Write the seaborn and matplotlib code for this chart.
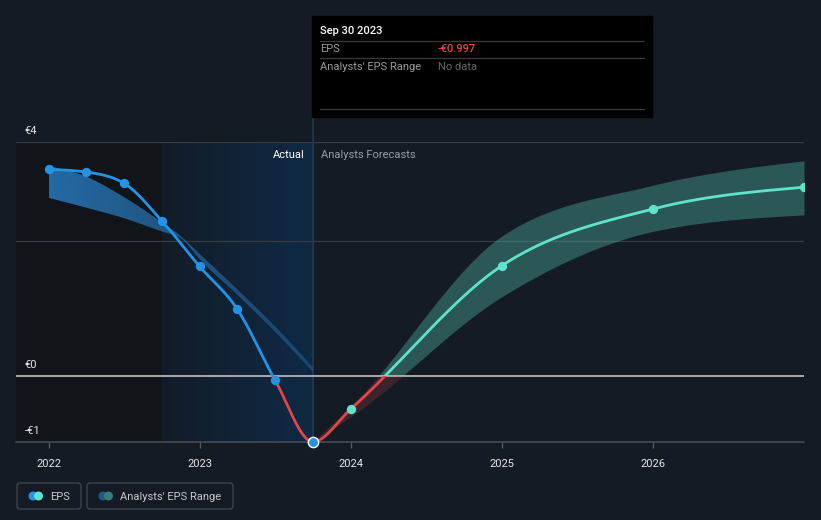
import numpy as np
import pandas as pd
import matplotlib
matplotlib.use("Agg")
import matplotlib.pyplot as plt
import seaborn as sns
from matplotlib.patches import Rectangle, FancyBboxPatch, Circle
from matplotlib.colors import to_rgb

# ---------------- data ----------------
actual_x = [2022.0, 2022.25, 2022.5, 2022.75, 2023.0, 2023.25, 2023.5, 2023.75]
actual_eps = [3.13, 3.09, 2.92, 2.35, 1.66, 1.01, -0.065, -0.997]

past_range_x = [2022.0, 2022.25, 2022.5, 2022.75, 2022.875, 2023.0, 2023.25, 2023.5, 2023.75]
past_range_high = [3.18, 3.02, 2.71, 2.33, 2.12, 1.85, 1.31, 0.75, 0.13]
past_range_low = [2.70, 2.55, 2.39, 2.19, 2.09, 1.77, 1.23, 0.67, 0.06]

fc_x = [2023.75, 2024.0, 2025.0, 2026.0, 2027.0]
fc_eps = [-0.997, -0.50, 1.67, 2.53, 2.86]
fc_low = [-0.997, -0.62, 1.20, 2.19, 2.44]
fc_high = [-0.997, -0.46, 2.12, 2.89, 3.26]

year_ticks = [2022, 2023, 2024, 2025, 2026]
year_labels = ["2022", "2023", "2024", "2025", "2026"]
y_label_vals = [3.545, 0.0, -1.0]
y_labels = ["€4", "€0", "-€1"]
gridline_vals = [3.545, 2.045]

tooltip_date = "Sep 30 2023"
tooltip_eps = "-€0.997"

# ---------------- helpers ----------------
def monotone(x, y, xs):
    """Monotone cubic (same rule as d3.curveMonotoneX)."""
    x = np.asarray(x, float); y = np.asarray(y, float)
    n = len(x)
    h = np.diff(x); s = np.diff(y) / h
    m = np.zeros(n)
    if n == 2:
        m[:] = s[0]
    else:
        for i in range(1, n - 1):
            p = (s[i - 1] * h[i] + s[i] * h[i - 1]) / (h[i - 1] + h[i])
            m[i] = (np.sign(s[i - 1]) + np.sign(s[i])) * min(abs(s[i - 1]), abs(s[i]), 0.5 * abs(p))
        m[0] = (3 * s[0] - m[1]) / 2
        m[-1] = (3 * s[-1] - m[-2]) / 2
    xs = np.asarray(xs, float)
    idx = np.clip(np.searchsorted(x, xs, side="right") - 1, 0, n - 2)
    t = (xs - x[idx]) / h[idx]
    h00 = 2 * t**3 - 3 * t**2 + 1
    h10 = t**3 - 2 * t**2 + t
    h01 = -2 * t**3 + 3 * t**2
    h11 = t**3 - t**2
    return h00 * y[idx] + h10 * h[idx] * m[idx] + h01 * y[idx + 1] + h11 * h[idx] * m[idx + 1]

# ---------------- style ----------------
BG = "#151b24"
BLUE = "#2394e4"
TEAL = "#5fe3cb"
RED = "#e0464a"

sns.set_theme(style="dark")
plt.rcParams["font.family"] = ["Roboto", "DejaVu Sans"]
plt.rcParams["axes.facecolor"] = BG
plt.rcParams["figure.facecolor"] = BG

W, H = 821, 520
fig = plt.figure(figsize=(W / 100, H / 100), dpi=100)
L, R, T, B = 16, 804, 142, 442
ax = fig.add_axes([L / W, 1 - B / H, (R - L) / W, (B - T) / H])
ax.set_facecolor(BG)

XMIN, XMAX = 2022 - 32.5 / 151.1, 2027.0
YMIN, YMAX = -1.0, 3.545

# background regions
ax.axvspan(XMIN, 2022.75, color="#111419", zorder=0, lw=0)
grad = np.zeros((1, 512, 4))
c0 = np.array(to_rgb("#131c28")); c1 = np.array(to_rgb("#0f2a45"))
for i in range(512):
    f = i / 511
    grad[0, i, :3] = c0 * (1 - f) + c1 * f
    grad[0, i, 3] = 1
ax.imshow(grad, extent=[2022.75, 2023.75, YMIN, YMAX], aspect="auto", zorder=0.5, interpolation="bilinear")

# grid lines
for gv in gridline_vals:
    ax.axhline(gv, color="#363b44", lw=0.9, zorder=1)
ax.axhline(0, color="#b5b5b5", lw=1.3, zorder=1.5)
ax.axhline(YMIN, color="#454a53", lw=1.2, zorder=1.5, clip_on=False)
ax.axvline(2023.75, ymin=0, ymax=(B - 117) / (B - T), color="#1d3a57", lw=1.2, zorder=1.2, clip_on=False)

# past analyst range (gradient fill)
xs_pr = np.linspace(past_range_x[0], past_range_x[-1], 400)
hi_pr = monotone(past_range_x, past_range_high, xs_pr)
lo_pr = monotone(past_range_x, past_range_low, xs_pr)
poly = ax.fill_between(xs_pr, lo_pr, hi_pr, facecolor="none", edgecolor="none")
g2 = np.zeros((1, 256, 4))
bc = np.array(to_rgb("#2a80c8"))
for i in range(256):
    f = i / 255
    g2[0, i, :3] = bc
    g2[0, i, 3] = 0.80 * (1 - f) + 0.35 * f
im = ax.imshow(g2, extent=[2022.0, 2023.75, YMIN, YMAX], aspect="auto", zorder=2, interpolation="bilinear")
im.set_clip_path(poly.get_paths()[0], transform=ax.transData)

# forecast range
xs_fc = np.linspace(fc_x[0], fc_x[-1], 500)
hi_fc = monotone(fc_x, fc_high, xs_fc)
lo_fc = monotone(fc_x, fc_low, xs_fc)
pos_clip = lambda: Rectangle((XMIN, 0), XMAX - XMIN, 50, transform=ax.transData)
neg_clip = lambda: Rectangle((XMIN, -50), XMAX - XMIN, 50, transform=ax.transData)
fb1 = ax.fill_between(xs_fc, lo_fc, hi_fc, color=TEAL, alpha=0.30, lw=0, zorder=2)
fb1.set_clip_path(pos_clip())
fb2 = ax.fill_between(xs_fc, lo_fc, hi_fc, color=RED, alpha=0.20, lw=0, zorder=2)
fb2.set_clip_path(neg_clip())

# EPS line: one continuous series (actual + forecast)
all_x = actual_x + fc_x[1:]
all_eps = actual_eps + fc_eps[1:]
xs_all = np.linspace(all_x[0], all_x[-1], 1200)
ys_all = monotone(all_x, all_eps, xs_all)
split = actual_x[-1]
df_a = pd.DataFrame({"x": xs_all[xs_all <= split], "y": ys_all[xs_all <= split]})
df_f = pd.DataFrame({"x": xs_all[xs_all >= split], "y": ys_all[xs_all >= split]})
df_f = pd.concat([pd.DataFrame({"x": [split], "y": [actual_eps[-1]]}), df_f], ignore_index=True)

for data, poscol in [(df_a, BLUE), (df_f, TEAL)]:
    for col, clipf in [(poscol, pos_clip), (RED, neg_clip)]:
        sns.lineplot(data=data, x="x", y="y", ax=ax, color=col, lw=2.0, sort=False, estimator=None, zorder=3)
        ax.lines[-1].set_clip_path(clipf())
        ax.lines[-1].set_solid_capstyle("round")

# points
df_ap = pd.DataFrame({"x": actual_x[:-1], "y": actual_eps[:-1]})
sns.scatterplot(data=df_ap, x="x", y="y", ax=ax, color=BLUE, s=45, linewidth=0, zorder=4)
df_last = pd.DataFrame({"x": actual_x[-1:], "y": actual_eps[-1:]})
sns.scatterplot(data=df_last, x="x", y="y", ax=ax, color=BLUE, s=55, edgecolor="white", linewidth=1.0, zorder=5, clip_on=False)
df_fp = pd.DataFrame({"x": fc_x[1:], "y": fc_eps[1:]})
sns.scatterplot(data=df_fp, x="x", y="y", ax=ax, color=TEAL, s=45, linewidth=0, zorder=4)

# axes setup
ax.set_xlim(XMIN, XMAX)
ax.set_ylim(YMIN, YMAX)
ax.set_xlabel(""); ax.set_ylabel("")
for s in ax.spines.values():
    s.set_visible(False)
ax.grid(False)
ax.set_xticks(year_ticks)
ax.set_xticklabels(year_labels)
ax.set_yticks([])
ax.tick_params(axis="x", colors="#555a63", length=4, width=1, pad=8, labelsize=8, labelcolor="#e6e6e6", bottom=True)
if ax.get_legend():
    ax.get_legend().remove()

for v, lab in zip(y_label_vals, y_labels):
    ax.annotate(lab, xy=(0, v), xycoords=("axes fraction", "data"), xytext=(6, 4),
                textcoords="offset points", va="bottom", ha="left", color="#e6e6e6", fontsize=8)

ax.annotate("Actual", xy=(2023.75, YMAX), xycoords="data", xytext=(-6, -6), textcoords="offset points",
            ha="right", va="top", color="#ffffff", fontsize=8)
ax.annotate("Analysts Forecasts", xy=(2023.75, YMAX), xycoords="data", xytext=(6, -6), textcoords="offset points",
            ha="left", va="top", color="#9a9da3", fontsize=8)

# overlay in pixel coordinates: tooltip + legend
ov = fig.add_axes([0, 0, 1, 1], zorder=10)
ov.set_xlim(0, W); ov.set_ylim(H, 0); ov.axis("off"); ov.patch.set_alpha(0)

ov.add_patch(Rectangle((312, 16), 340, 101, color="#000000", zorder=1))
for yy in (41, 58, 109):
    ov.plot([320, 644], [yy, yy], color="#3a3a3a", lw=0.9, zorder=2)
ov.text(320, 31, tooltip_date, color="white", fontsize=8, fontweight="medium", va="center", ha="left", zorder=3)
ov.text(320, 49.5, "EPS", color="#9a9a9a", fontsize=8, va="center", ha="left", zorder=3)
ov.text(438, 49.5, tooltip_eps, color=RED, fontsize=8, fontweight="medium", va="center", ha="left", zorder=3)
ov.text(320, 66.5, "Analysts' EPS Range", color="#9a9a9a", fontsize=8, va="center", ha="left", zorder=3)
ov.text(438, 66.5, "No data", color="#666666", fontsize=8, va="center", ha="left", zorder=3)

# legend
ov.add_patch(FancyBboxPatch((17, 483), 64, 26, boxstyle="round,pad=0,rounding_size=3",
                            fc="none", ec="#3d424b", lw=1))
ov.add_patch(FancyBboxPatch((87, 483), 146, 26, boxstyle="round,pad=0,rounding_size=3",
                            fc="none", ec="#3d424b", lw=1))
ov.add_patch(Circle((33, 496), 4.5, color=BLUE, lw=0))
ov.add_patch(Circle((38.5, 496), 4.5, color=TEAL, lw=0))
ov.text(50, 496.5, "EPS", color="#c8c8c8", fontsize=8, va="center", ha="left")
ov.add_patch(Circle((103, 496), 4.5, color="#1f5a8c", lw=0))
ov.add_patch(Circle((108.5, 496), 4.5, color="#3b7a75", lw=0))
ov.text(120, 496.5, "Analysts' EPS Range", color="#c8c8c8", fontsize=8, va="center", ha="left")

fig.savefig("out.png", dpi=100, facecolor=BG)
